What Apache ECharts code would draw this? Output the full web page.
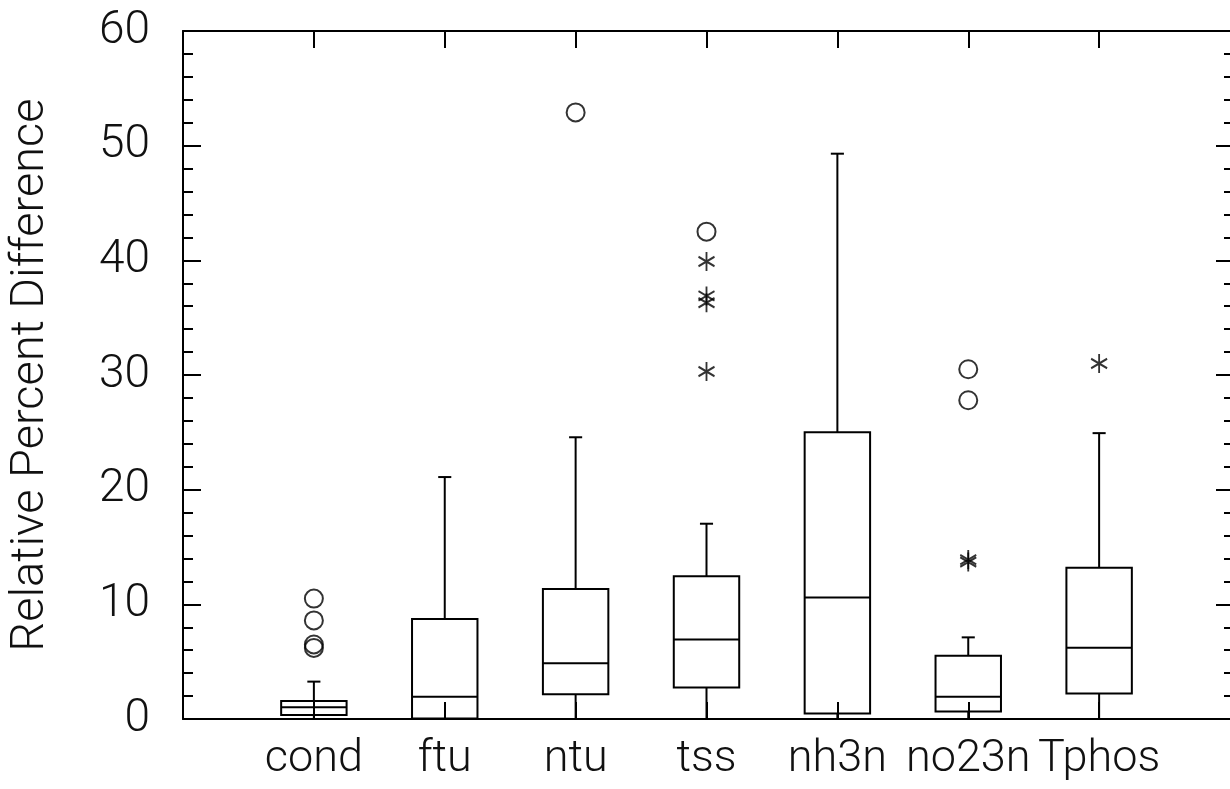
<!DOCTYPE html>
<html>
<head>
<meta charset="utf-8">
<script src="https://cdn.jsdelivr.net/npm/echarts@6/dist/echarts.min.js"></script>
<style>
  html, body { margin: 0; padding: 0; background: #fff; }
  #chart { width: 1230px; height: 789px; }
</style>
</head>
<body>
<div id="chart"></div>
<script>
// ---- data ----
const categories = ['cond', 'ftu', 'ntu', 'tss', 'nh3n', 'no23n', 'Tphos'];
const whiskerLow  = [0, 0, 0, 0, 0, 0, 0];
const q1          = [0.35, 0.05, 2.16, 2.74, 0.48, 0.66, 2.23];
const median      = [1.02, 1.95, 4.86, 6.93, 10.59, 1.94, 6.22];
const q3          = [1.57, 8.73, 11.33, 12.46, 25.0, 5.52, 13.2];
const whiskerHigh = [3.26, 21.1, 24.57, 17.03, 49.3, 7.12, 24.93];
const circleOutliers = [[10.5, 8.6, 6.5, 6.2], [], [52.9], [42.5], [], [30.5, 27.8], []];
const starOutliers   = [[], [], [], [39.9, 36.9, 36.3, 30.3], [], [13.9, 13.7], [31.0]];
const yTicks = [0, 10, 20, 30, 40, 50, 60];
const yTitle = 'Relative Percent Difference';

// ---- build ----
const boxData = categories.map((c, i) => [i + 1, whiskerLow[i], q1[i], median[i], q3[i], whiskerHigh[i]]);
const circleData = [];
circleOutliers.forEach((arr, i) => arr.forEach(v => circleData.push([i + 1, v])));
const starData = [];
starOutliers.forEach((arr, i) => arr.forEach(v => starData.push([i + 1, v])));
const catPositions = categories.map((c, i) => i + 1);

const FONT = 'Roboto, "Liberation Sans", sans-serif';
const INK = '#000';
const LW = 2;

function renderBox(params, api) {
  const x = api.value(0);
  const pLo = api.coord([x, api.value(1)]);
  const pQ1 = api.coord([x, api.value(2)]);
  const pMd = api.coord([x, api.value(3)]);
  const pQ3 = api.coord([x, api.value(4)]);
  const pHi = api.coord([x, api.value(5)]);
  const unit = api.size([1, 0])[0];
  const hw = unit * 0.25;
  const cw = unit * 0.05;
  const cx = pMd[0];
  const st = { stroke: INK, lineWidth: LW, fill: null };
  const children = [
    { type: 'rect', shape: { x: cx - hw, y: pQ3[1], width: 2 * hw, height: pQ1[1] - pQ3[1] }, style: st },
    { type: 'line', shape: { x1: cx - hw, y1: pMd[1], x2: cx + hw, y2: pMd[1] }, style: st },
    { type: 'line', shape: { x1: cx, y1: pQ3[1], x2: cx, y2: pHi[1] }, style: st },
    { type: 'line', shape: { x1: cx - cw, y1: pHi[1], x2: cx + cw, y2: pHi[1] }, style: st }
  ];
  if (pLo[1] > pQ1[1] + 0.5) {
    children.push({ type: 'line', shape: { x1: cx, y1: pQ1[1], x2: cx, y2: pLo[1] }, style: st });
  }
  return { type: 'group', children };
}

const chart = echarts.init(document.getElementById('chart'), null, { renderer: 'canvas' });
const axisLineStyle = { color: INK, width: LW };

chart.setOption({
  backgroundColor: '#fff',
  animation: false,
  grid: { left: 181, width: 1055, top: 31, bottom: 70, containLabel: false },
  xAxis: [
    {
      type: 'value', min: 0, max: 8, interval: 1, position: 'bottom',
      splitLine: { show: false },
      axisLine: { show: true, onZero: false, lineStyle: axisLineStyle },
      axisTick: { show: true, inside: true, length: 17, customValues: catPositions, lineStyle: { color: INK, width: LW } },
      axisLabel: {
        show: true, customValues: catPositions, margin: 18,
        fontFamily: FONT, fontWeight: 300, fontSize: 45, color: '#111',
        formatter: v => categories[Math.round(v) - 1] || ''
      }
    },
    {
      type: 'value', min: 0, max: 8, interval: 1, position: 'top',
      splitLine: { show: false },
      axisLine: { show: true, onZero: false, lineStyle: axisLineStyle },
      axisTick: { show: true, inside: true, length: 17, customValues: catPositions, lineStyle: { color: INK, width: LW } },
      axisLabel: { show: false }
    }
  ],
  yAxis: [
    {
      type: 'value', min: 0, max: 60, interval: 10, position: 'left',
      splitLine: { show: false },
      axisLine: { show: true, onZero: false, lineStyle: axisLineStyle },
      axisTick: { show: true, inside: true, length: 18, lineStyle: { color: INK, width: LW } },
      minorTick: { show: true, splitNumber: 5, length: 10, lineStyle: { color: INK, width: LW } },
      axisLabel: {
        show: true, inside: false, margin: 33, fontFamily: FONT, fontWeight: 300, fontSize: 46, color: '#111',
        formatter: v => (yTicks.indexOf(v) >= 0 ? String(v) : '')
      },
      name: yTitle, nameLocation: 'middle', nameRotate: 90, nameGap: 128,
      nameTextStyle: { fontFamily: FONT, fontWeight: 300, fontSize: 47, color: '#111' }
    },
    {
      type: 'value', min: 0, max: 60, interval: 10, position: 'right',
      splitLine: { show: false },
      axisLine: { show: false, onZero: false, lineStyle: axisLineStyle },
      axisTick: { show: true, inside: true, length: 14, lineStyle: { color: INK, width: LW } },
      minorTick: { show: true, splitNumber: 5, length: 6, lineStyle: { color: INK, width: LW } },
      axisLabel: { show: false }
    }
  ],
  series: [
    {
      type: 'custom', xAxisIndex: 0, yAxisIndex: 0,
      renderItem: renderBox, data: boxData,
      encode: { x: 0, y: [1, 2, 3, 4, 5] }, z: 3
    },
    {
      type: 'scatter', xAxisIndex: 0, yAxisIndex: 0, data: circleData,
      symbol: 'circle', symbolSize: 18,
      itemStyle: { color: 'rgba(0,0,0,0)', borderColor: INK, borderWidth: 2 }, z: 4
    },
    {
      type: 'scatter', xAxisIndex: 0, yAxisIndex: 0, data: starData,
      symbol: 'path://M0,-10 L0,10 M-8.66,-5 L8.66,5 M-8.66,5 L8.66,-5',
      symbolSize: [16, 19],
      itemStyle: { color: 'none', borderColor: INK, borderWidth: 2 }, z: 4
    }
  ]
});
</script>
</body>
</html>
